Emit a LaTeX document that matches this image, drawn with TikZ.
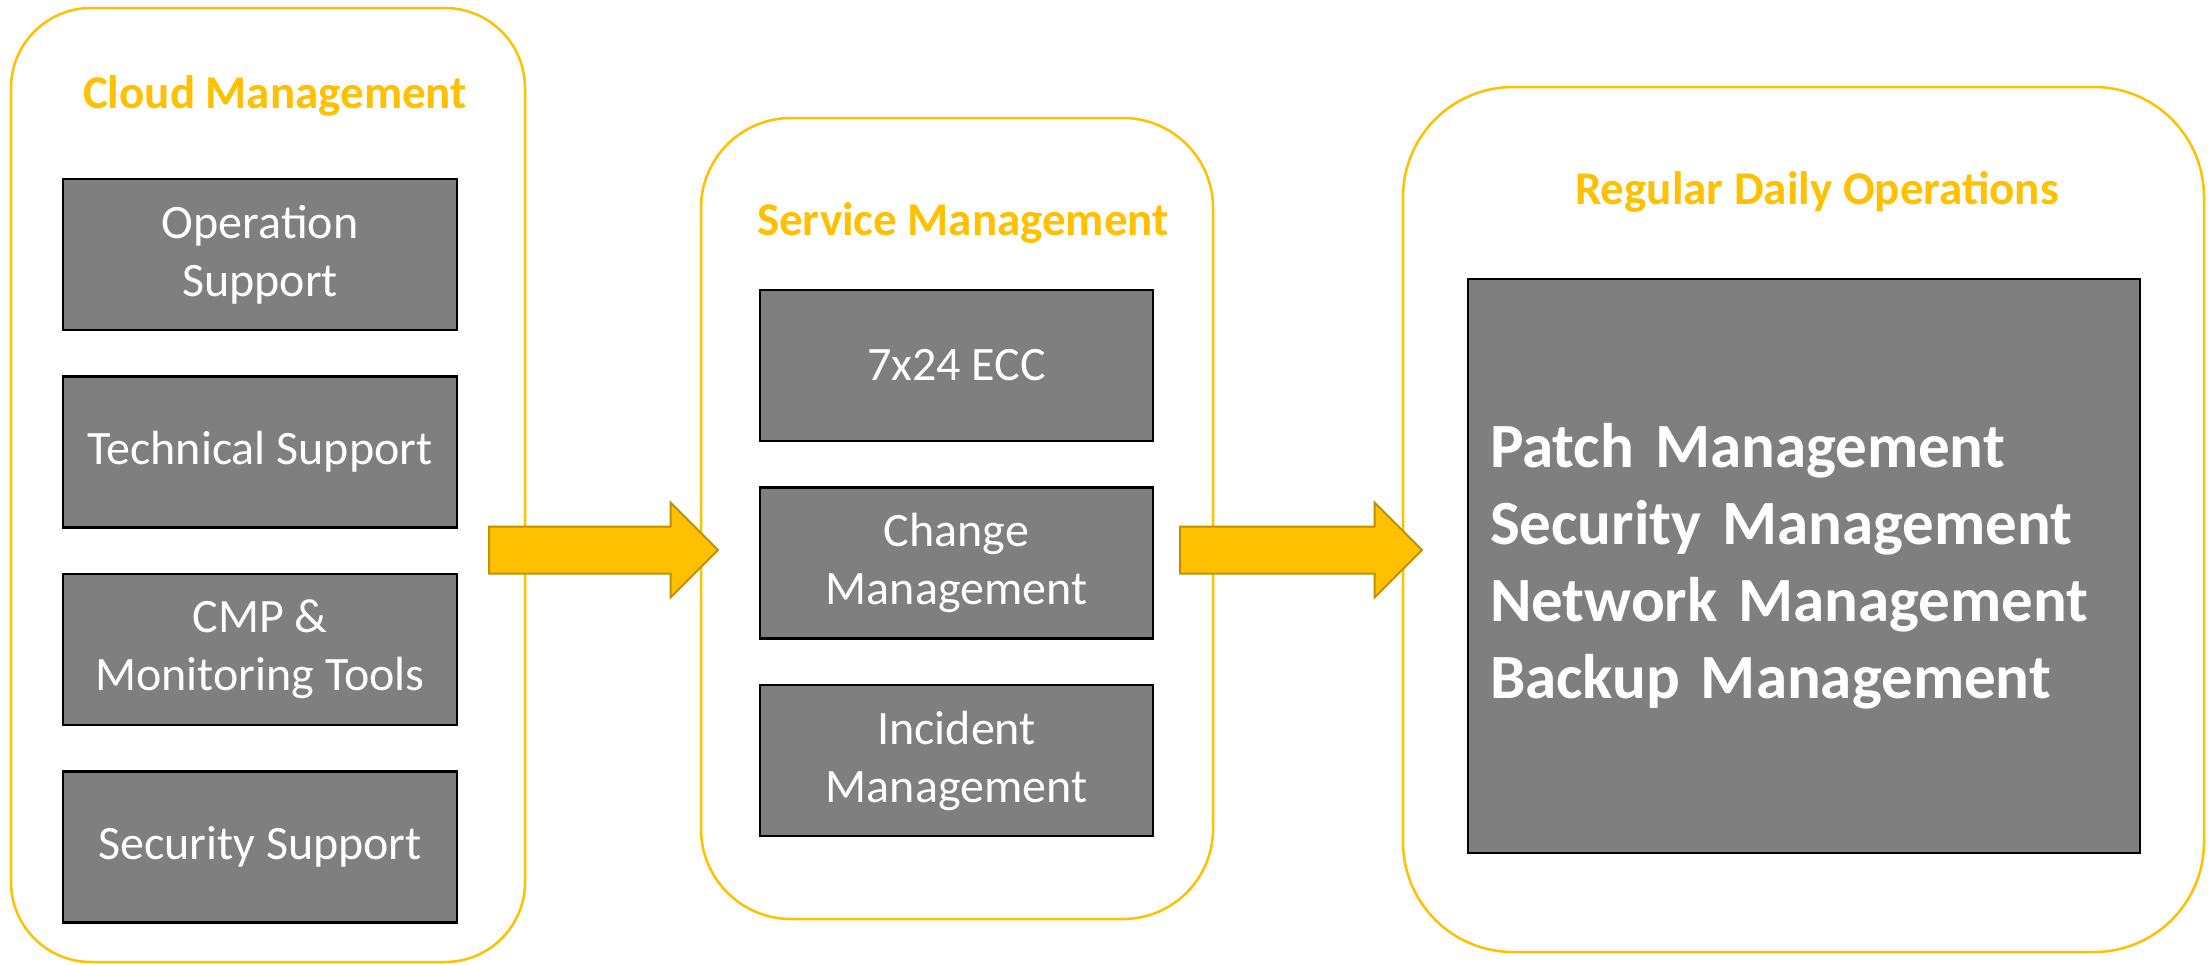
\documentclass[tikz,border=0pt]{standalone}
\usepackage{fontspec}
\setmainfont{Carlito}
\usetikzlibrary{positioning,shapes.arrows}
\definecolor{gold}{HTML}{FFC000}
\definecolor{darkgold}{HTML}{BF9000}
\definecolor{boxgray}{HTML}{7F7F7F}

\begin{document}
\begin{tikzpicture}[x=1pt,y=-1pt,
	panel/.style={rectangle,draw=gold,line width=2.5pt,rounded corners=#1},
	paneltitle/.style={text=gold,font=\fontsize{47}{56}\selectfont\bfseries},
	taskbox/.style={rectangle,draw=black,line width=2.5pt,fill=boxgray,text=white,minimum width=394pt,minimum height=151pt,align=center,font=\fontsize{48}{58}\selectfont},
	flowarrow/.style={single arrow,draw=darkgold,fill=gold,line width=2pt,anchor=tail,inner xsep=0pt,inner ysep=22.5pt,single arrow head extend=24pt,single arrow tip angle=90}]
		\useasboundingbox (0,0) rectangle (2211,964);

		% the three panels
		\node[panel=80pt,minimum width=514pt,minimum height=954pt]				(cloud)		at (268,485)	{};
		\node[panel=90pt,minimum width=512pt,minimum height=801pt]				(service)	at (957,518.5)	{};
		\node[panel=110pt,minimum width=801pt,minimum height=865pt]				(daily)		at (1803.5,519.5)	{};

		\node[paneltitle]	(cloudtitle)	at (275,96)		{Cloud Management};
		\node[paneltitle]	(servicetitle)	at (963,223)	{Service Management};
		\node[paneltitle]	(dailytitle)	at (1817,192)	{Regular Daily Operations};

		% cloud management
		\node[taskbox]											(opsup)		at (260,254.5)	{Operation\\Support};
		\node[taskbox,node distance=44pt,below=of opsup]		(techsup)	{Technical Support};
		\node[taskbox,node distance=44pt,below=of techsup]		(cmp)		{CMP \&\\Monitoring Tools};
		\node[taskbox,node distance=44pt,below=of cmp]			(secsup)	{Security Support};

		% service management
		\node[taskbox,minimum width=393pt]										(ecc)		at (956.5,365.5)	{7x24 ECC};
		\node[taskbox,minimum width=393pt,node distance=44pt,below=of ecc]		(change)	{Change\\Management};
		\node[taskbox,minimum width=393pt,node distance=44pt,below=of change]	(incident)	{Incident\\Management};

		% regular daily operations
		\node[taskbox,minimum width=672pt,minimum height=574pt,text width=628pt,align=left,font=\fontsize{63}{77}\selectfont\bfseries]	(dailyops)	at (1804,566)
			{Patch Management\\Security Management\\Network Management\\Backup Management};

		% flow
		\node[flowarrow,minimum height=229pt]	(cloudtoservice)	at (488,550)	{};
		\node[flowarrow,minimum height=242pt]	(servicetodaily)	at (1179,550)	{};
	\end{tikzpicture}
\end{document}
